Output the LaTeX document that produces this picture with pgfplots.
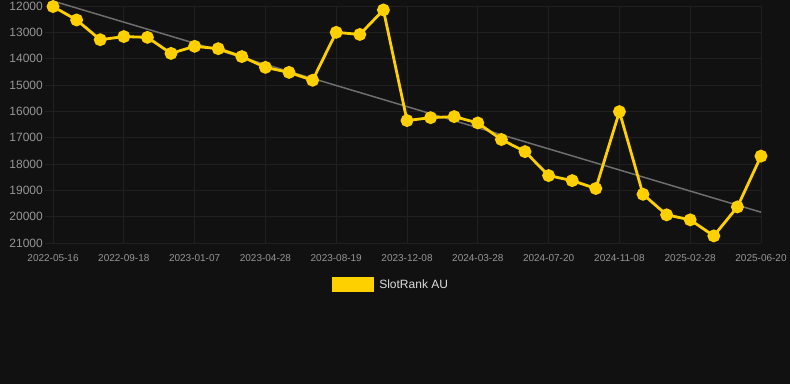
\documentclass[border=0pt]{standalone}
\usepackage{pgfplots}
\pgfplotsset{compat=1.18}
\usepackage{fontspec}
\setmainfont{Liberation Sans}
\definecolor{bgc}{RGB}{17,17,17}
\definecolor{gridc}{RGB}{32,32,32}
\definecolor{yel}{RGB}{255,208,0}
\definecolor{trend}{RGB}{110,110,110}
\definecolor{tickc}{RGB}{150,150,150}
\definecolor{legc}{RGB}{220,220,220}
\begin{document}
\begin{tikzpicture}[x=1pt,y=1pt]
\fill[bgc] (0,0) rectangle (790,384);
\begin{axis}[
  at={(45pt,141pt)}, anchor=south west,
  scale only axis, width=716pt, height=237pt,
  xmin=-0.34, xmax=30,
  ymin=12000, ymax=21000, y dir=reverse,
  ytick={12000,13000,...,21000},
  xtick={0,3,...,30},
  xticklabels={2022-05-16,2022-09-18,2023-01-07,2023-04-28,2023-08-19,2023-12-08,2024-03-28,2024-07-20,2024-11-08,2025-02-28,2025-06-20},
  scaled y ticks=false,
  /pgf/number format/assume math mode=true,
  /pgf/number format/set thousands separator={},
  yticklabel style={font=\fontsize{12}{14}\selectfont, color=tickc, inner sep=0pt, xshift=-2pt},
  xticklabel style={font=\fontsize{10}{12}\selectfont, color=tickc, inner sep=0pt, yshift=-11pt},
  major tick length=0pt,
  grid=major, major grid style={gridc, line width=0.8pt},
  axis line style={draw=none},
  clip=false,
  legend style={at={(0.485,-0.175)}, anchor=center, draw=none, fill=none,
    text=legc, font=\fontsize{12}{14}\selectfont, inner sep=0pt,
    nodes={inner xsep=5pt, inner ysep=0pt}},
  legend image code/.code={\fill[yel] (0pt,-6pt) rectangle (40pt,6pt);},
]
\addplot[trend, line width=1.5pt, forget plot] coordinates {(0,11810) (30,19830)};
\addplot[yel, line width=2.8pt, mark=*, mark size=5pt, mark options={solid, fill=yel, draw=none}] coordinates {
(0,12020) (1,12530) (2,13280) (3,13160) (4,13190) (5,13800) (6,13530) (7,13620)
(8,13920) (9,14330) (10,14520) (11,14820) (12,13000) (13,13080) (14,12150)
(15,16350) (16,16240) (17,16200) (18,16440) (19,17070) (20,17530) (21,18440)
(22,18630) (23,18930) (24,16010) (25,19150) (26,19930) (27,20120) (28,20730)
(29,19630) (30,17700)};
\addlegendentry{SlotRank AU}
\end{axis}
\end{tikzpicture}
\end{document}
